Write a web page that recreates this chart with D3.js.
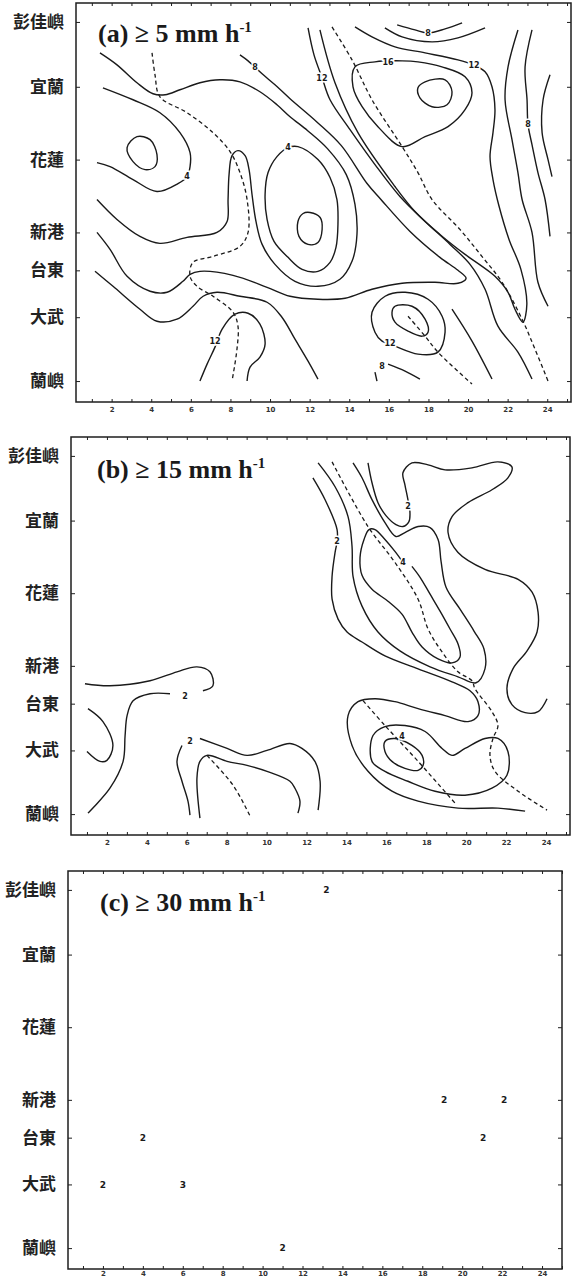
<!DOCTYPE html>
<html>
<head>
<meta charset="utf-8">
<script src="https://cdn.jsdelivr.net/npm/d3@7"></script>
<style>
body { margin: 0; background: #fff; }
svg { display: block; }
.frame { fill: none; stroke: #1e1e1e; stroke-width: 1.5; }
.axis path.domain { display: none; }
.axis line { stroke: #1e1e1e; stroke-width: 1; }
.xa text { font-family: "DejaVu Sans"; font-size: 7px; font-weight: bold; fill: #333; }
.ya text { font-family: "Noto Sans CJK TC"; font-size: 17px; font-weight: 600; fill: #222; }
.title { font-family: "Liberation Serif"; font-weight: bold; font-size: 26px; fill: #1a1a1a; }
.ct { fill: none; stroke: #1a1a1a; stroke-width: 1.4; }
.cd { fill: none; stroke: #1a1a1a; stroke-width: 1.3; stroke-dasharray: 4 3; }
.lab { font-family: "DejaVu Sans"; font-size: 8px; font-weight: bold; fill: #1a1a1a;
       stroke: #fff; stroke-width: 3; paint-order: stroke; text-anchor: middle; }
.val { font-family: "DejaVu Sans"; font-size: 9px; font-weight: bold; fill: #1a1a1a; text-anchor: middle; }
</style>
</head>
<body>
<svg id="fig" width="575" height="1279"></svg>
<script>
// 測站 (沿岸距離 km 的位置)
var stations = ["彭佳嶼", "宜蘭", "花蓮", "新港", "台東", "大武", "蘭嶼"];
var stationPos = [19, 84, 157, 230, 268, 315, 379];

// 時間刻度
var hourTicks = [1, 2, 3, 4, 5, 6, 7, 8, 9, 10, 11, 12, 13, 14, 15, 16, 17, 18, 19, 20, 21, 22, 23, 24, 25];
var hourLabels = [2, 4, 6, 8, 10, 12, 14, 16, 18, 20, 22, 24];

// (a) >= 5 mm/h  等值線 [時, km]
var aSolid = [
  [[1.41,50],[2.27,62],[3.28,80],[4.09,91],[4.70,92],[5.45,87],[6.46,80],[7.47,77],[8.48,79],[9.49,89],[10.35,102],[11.01,114],[11.9,128],[12.9,146],[13.85,172],[14.29,202],[14.39,232],[14.14,259],[13.53,277],[12.42,284],[11.26,279],[10.25,262],[9.6,242],[9.29,219],[9.09,192],[8.94,167],[8.74,153],[8.38,148],[8.08,153],[7.93,172],[7.88,197],[7.83,219],[7.32,230],[5.81,235],[4.44,241],[3.43,234],[2.27,217],[1.26,197]],
  [[8.48,52],[8.89,58],[9.6,71],[10.25,82],[11.01,96],[12.35,119],[13.6,143],[14.9,181],[15.6,197],[17.07,229],[18.58,255],[19.49,268],[19.9,276],[19.49,281],[18.33,280],[16.67,281],[15.15,287],[13.79,296],[12.42,297],[11.01,294],[9.85,285],[8.13,273],[6.46,269],[5.96,272],[5.6,279],[4.8,290],[3.94,289],[2.78,274],[1.92,247],[1.26,230]],
  [[1.16,269],[2.07,284],[3.43,307],[4.29,319],[5.3,317],[6.11,304],[6.62,294],[7.32,290],[8.48,294],[9.85,300],[10.6,315],[11.26,337],[11.92,359],[12.42,377]],
  [[6.46,379],[6.82,362],[7.22,345],[7.58,327],[8.23,312],[8.89,311],[9.49,322],[9.75,342],[9.49,355],[8.99,365],[8.84,379]],
  [[1.56,85],[3.08,97],[4.44,110],[5.45,130],[5.96,150],[5.96,164],[5.81,174],[5.35,181],[4.29,189],[3.08,177],[1.92,164],[1.26,160]],
  [[11.92,25],[12.22,52],[12.63,75],[13.03,97],[14.04,127],[15.3,162],[16.56,194],[17.83,219],[19.09,242],[20.1,262],[20.86,287],[21.51,324],[22.52,350],[23.23,377]],
  [[12.52,27],[13.28,80],[14.44,130],[16.31,184],[17.32,209],[18.58,232],[19.85,252],[20.71,264],[21.36,274],[22.02,290],[22.37,307],[22.77,320],[22.97,302],[22.67,267],[22.07,237],[21.57,204],[21.26,177],[21.11,154],[21.26,130],[21.36,107],[21.21,84],[20.86,69],[20.25,62],[19.49,57],[17.83,50],[16.31,44],[15.15,34],[14.29,24]],
  [[16.42,22],[17.32,27],[17.98,30],[18.84,26],[19.7,20]],
  [[15.8,25],[16.67,34],[18.18,39],[19.49,35],[20.86,25]],
  [[22.52,27],[22.02,64],[21.87,97],[22.22,137],[22.52,170],[22.73,197],[23.23,230],[23.53,280],[24.04,304]],
  [[23.23,27],[22.88,64],[22.98,97],[23.03,122],[23.23,142],[23.53,170],[23.89,197],[24.14,234]],
  [[24.14,72],[23.79,97],[23.74,130],[24.04,157],[24.24,174]],
  [[19.19,307],[20.2,339],[21.21,377]],
  [[15.96,362],[16.82,369],[17.57,377]],
  [[15.3,370],[15.4,379]]
];
var aClosed = [
  [[10.91,145],[11.41,144],[12.42,157],[13.03,175],[13.38,197],[13.43,222],[13.33,245],[13.03,260],[12.42,269],[11.62,267],[10.91,255],[10.2,239],[9.85,217],[9.75,192],[9.9,170],[10.35,154]],
  [[12.02,210],[12.53,215],[12.63,227],[12.42,240],[11.92,242],[11.46,234],[11.41,219],[11.67,211]],
  [[3.28,134],[3.94,137],[4.29,152],[4.19,164],[3.69,167],[3.08,159],[2.78,145]],
  [[15.3,59],[14.29,64],[14.19,84],[14.65,104],[15.45,124],[16.67,144],[17.83,134],[18.99,124],[19.85,107],[20.2,90],[19.85,74],[18.68,64],[17.47,59],[16.67,58]],
  [[17.83,79],[18.84,77],[19.19,89],[18.94,102],[18.18,104],[17.57,95],[17.47,85]],
  [[16.31,304],[17.17,304],[17.83,317],[17.98,330],[17.68,334],[16.97,329],[16.31,320],[16.16,310]],
  [[16.31,344],[17.47,352],[18.48,350],[18.84,330],[18.69,314],[17.98,297],[16.82,290],[15.81,294],[15.15,310],[15.3,330],[15.66,339]]
];
var aDashed = [
  [[4.04,50],[4.19,72],[4.44,94],[5.81,110],[7.12,130],[7.98,149],[8.48,170],[8.84,197],[8.89,230],[8.48,244],[7.12,254],[6.11,260],[5.96,274],[6.31,284],[7.12,294],[8.13,310],[8.38,324],[8.33,347],[8.08,379]],
  [[13.13,24],[14.14,57],[15.15,97],[16.67,144],[17.47,170],[18.18,197],[19.59,227],[20.7,254],[21.72,280],[22.73,317],[23.38,347],[24.04,379]],
  [[16.97,314],[17.83,334],[18.48,350],[20.2,382]]
];
var aLabels = [
  [9.24,64,"8"], [12.62,75,"12"], [15.96,59,"16"], [20.3,62,"12"], [17.98,30,"8"],
  [23.03,122,"8"], [10.91,145,"4"], [5.81,174,"4"], [7.22,339,"12"], [16.06,341,"12"], [15.66,364,"8"]
];

// (b) >= 15 mm/h
var bSolid = [
  [[0.9,248],[2.15,250],[4.16,245],[5.51,236],[6.51,231],[7.16,236],[7.31,250],[6.81,255]],
  [[5.16,258],[4.16,258],[3.31,265],[3.01,280],[2.91,300],[2.81,326],[2.15,353],[1.05,378]],
  [[1.05,273],[1.8,286],[2.3,310],[2.0,325],[1.65,326],[1.0,316]],
  [[5.76,310],[5.51,326],[5.76,346],[6.06,366],[6.16,380]],
  [[6.66,303],[8.02,313],[9.02,320],[10.02,315],[11.17,308],[11.77,313],[12.42,326],[12.68,346],[12.58,375]],
  [[6.66,383],[6.51,343],[6.66,326],[7.01,320],[8.02,326],[9.02,330],[10.02,336],[11.17,346],[11.42,353],[11.67,366],[11.57,378]],
  [[12.32,41],[12.93,63],[13.53,93],[13.53,105],[13.43,116],[13.28,140],[13.28,163],[13.58,183],[14.03,196],[14.78,206],[15.93,220],[17.59,233],[19.29,246],[20.19,255],[20.59,266],[20.59,280],[20.09,286],[18.94,280],[17.59,273],[16.43,266],[15.43,263],[14.58,266],[14.08,280],[14.28,310],[15.08,336],[16.28,356],[17.59,366],[19.59,373],[21.59,373],[22.95,376]],
  [[12.58,26],[13.43,50],[14.08,80],[14.28,110],[14.33,140],[14.78,170],[15.58,196],[16.68,215],[18.19,231],[19.59,241],[20.49,247],[20.94,233],[20.89,213],[20.39,195],[19.69,173],[18.99,151],[18.74,125],[18.59,103],[18.19,91],[17.59,90],[16.93,96],[16.48,100],[15.93,86],[15.28,63],[14.78,41],[14.33,26]],
  [[16.83,126],[16.43,115],[15.93,103],[15.43,93],[15.13,93],[14.88,103],[14.68,121],[14.78,139],[15.28,153],[16.08,165],[16.78,178],[17.28,196],[17.79,211],[18.59,223],[19.29,227],[19.69,221],[19.59,208],[19.19,193],[18.69,175],[18.19,158],[17.69,141],[17.28,130]],
  [[15.08,26],[15.28,46],[15.58,66],[15.98,79],[16.48,88],[16.83,90],[17.13,85],[17.18,75],[17.08,63],[16.93,48],[16.83,36],[17.28,26],[18.09,28],[18.94,33],[20.29,31],[21.59,25],[22.29,30],[22.09,41],[21.29,53],[20.09,66],[19.29,80],[19.09,96],[19.59,116],[20.94,133],[22.6,143],[23.3,156],[23.6,176],[23.55,196],[23.05,215],[22.34,233],[22.04,253],[22.29,269],[22.95,277],[23.6,276],[24.05,263]]
];
var bClosed = [
  [[15.28,326],[15.33,300],[15.93,291],[16.93,290],[17.94,296],[18.79,313],[19.29,320],[19.94,313],[20.94,303],[21.59,303],[22.09,316],[22.04,340],[21.29,353],[19.94,360],[18.44,356],[17.08,346],[15.93,336]],
  [[15.93,306],[16.43,303],[17.28,310],[17.79,320],[17.84,330],[17.59,335],[16.93,333],[16.28,326],[15.93,316]]
];
var bDashed = [
  [[7.01,320],[8.32,350],[9.17,381]],
  [[13.28,25],[15.08,90],[16.43,126],[17.59,163],[18.09,193],[18.79,216],[19.59,236],[20.29,245],[20.44,253],[21.29,276],[21.59,290],[21.34,303],[21.19,320],[21.44,336],[22.6,356],[24.05,375]],
  [[14.83,265],[15.93,290],[17.59,326],[19.44,368]]
];
var bLabels = [
  [17.08,70,"2"], [13.53,105,"2"], [16.83,126,"4"], [5.91,260,"2"], [6.16,306,"2"], [16.78,301,"4"]
];

// (c) >= 30 mm/h  各站各時次數值
var cHours = [13.2, 4, 2, 6, 11, 19.1, 22.1, 21.05];
var cStation = ["彭佳嶼", "台東", "大武", "大武", "蘭嶼", "新港", "新港", "台東"];
var cValues = ["2", "2", "2", "3", "2", "2", "2", "2"];

var panels = [
  { key: "a", title: "(a) \u2265 5 mm h", box: [76, 3, 571, 402], xDom: [0.2, 25.2], tOff: [22, 39], pad: 5,
    solid: aSolid, closed: aClosed, dashed: aDashed, labels: aLabels },
  { key: "b", title: "(b) \u2265 15 mm h", box: [71, 437, 570, 835], xDom: [0.2, 25.2], tOff: [26, 41], pad: 5,
    solid: bSolid, closed: bClosed, dashed: bDashed, labels: bLabels },
  { key: "c", title: "(c) \u2265 30 mm h", box: [68, 871, 562, 1269], xDom: [0.25, 25.0], tOff: [32, 40], pad: 2,
    solid: [], closed: [], dashed: [], labels: [] }
];

var svg = d3.select("#fig");
panels.forEach(drawPanel);

function drawPanel(p) {
  var b = p.box;
  var x = d3.scaleLinear().domain(p.xDom).range([b[0], b[2]]);
  var y = d3.scaleLinear().domain([0, 400]).range([b[1], b[3]]);
  var g = svg.append("g");

  g.append("clipPath").attr("id", "clip-" + p.key)
    .append("rect").attr("x", b[0]).attr("y", b[1]).attr("width", b[2] - b[0]).attr("height", b[3] - b[1]);

  // 軸
  g.append("g").attr("class", "axis xa").attr("transform", "translate(0," + b[3] + ")")
    .call(d3.axisBottom(x).tickValues(hourTicks).tickSize(-3).tickSizeOuter(0).tickPadding(p.pad)
      .tickFormat(function (d) { return hourLabels.indexOf(d) >= 0 ? d : ""; }));
  g.append("g").attr("class", "axis").attr("transform", "translate(0," + b[1] + ")")
    .call(d3.axisTop(x).tickValues(hourTicks).tickSize(-3).tickSizeOuter(0).tickFormat(""));
  g.append("g").attr("class", "axis ya").attr("transform", "translate(" + b[0] + ",0)")
    .call(d3.axisLeft(y).tickValues(stationPos).tickSize(-4).tickSizeOuter(0).tickPadding(12)
      .tickFormat(function (d, i) { return stations[i]; }));
  g.append("g").attr("class", "axis").attr("transform", "translate(" + b[2] + ",0)")
    .call(d3.axisRight(y).tickValues(stationPos).tickSize(-4).tickSizeOuter(0).tickFormat(""));

  g.append("rect").attr("class", "frame")
    .attr("x", b[0]).attr("y", b[1]).attr("width", b[2] - b[0]).attr("height", b[3] - b[1]);

  // 等值線
  var line = d3.line().x(function (d) { return x(d[0]); }).y(function (d) { return y(d[1]); })
    .curve(d3.curveCatmullRom.alpha(0.5));
  var loop = d3.line().x(function (d) { return x(d[0]); }).y(function (d) { return y(d[1]); })
    .curve(d3.curveCatmullRomClosed.alpha(0.5));
  var cg = g.append("g").attr("clip-path", "url(#clip-" + p.key + ")");

  cg.selectAll("path.ct-open").data(p.solid).enter().append("path")
    .attr("class", "ct ct-open").attr("d", line);
  cg.selectAll("path.ct-loop").data(p.closed).enter().append("path")
    .attr("class", "ct ct-loop").attr("d", loop);
  cg.selectAll("path.cd").data(p.dashed).enter().append("path")
    .attr("class", "cd").attr("d", line);

  cg.selectAll("text.lab").data(p.labels).enter().append("text")
    .attr("class", "lab").attr("x", function (d) { return x(d[0]); }).attr("y", function (d) { return y(d[1]); })
    .attr("dy", "0.35em").text(function (d) { return d[2]; });

  if (p.key === "c") {
    cg.selectAll("text.val").data(cValues).enter().append("text")
      .attr("class", "val")
      .attr("x", function (d, i) { return x(cHours[i]); })
      .attr("y", function (d, i) { return y(stationPos[stations.indexOf(cStation[i])]); })
      .attr("dy", "0.35em").text(function (d) { return d; });
  }

  // 標題
  var t = g.append("text").attr("class", "title")
    .attr("x", b[0] + p.tOff[0]).attr("y", b[1] + p.tOff[1]).text(p.title);
  t.append("tspan").attr("font-size", "15px").attr("dy", "-10").text("-1");
}
</script>
</body>
</html>
